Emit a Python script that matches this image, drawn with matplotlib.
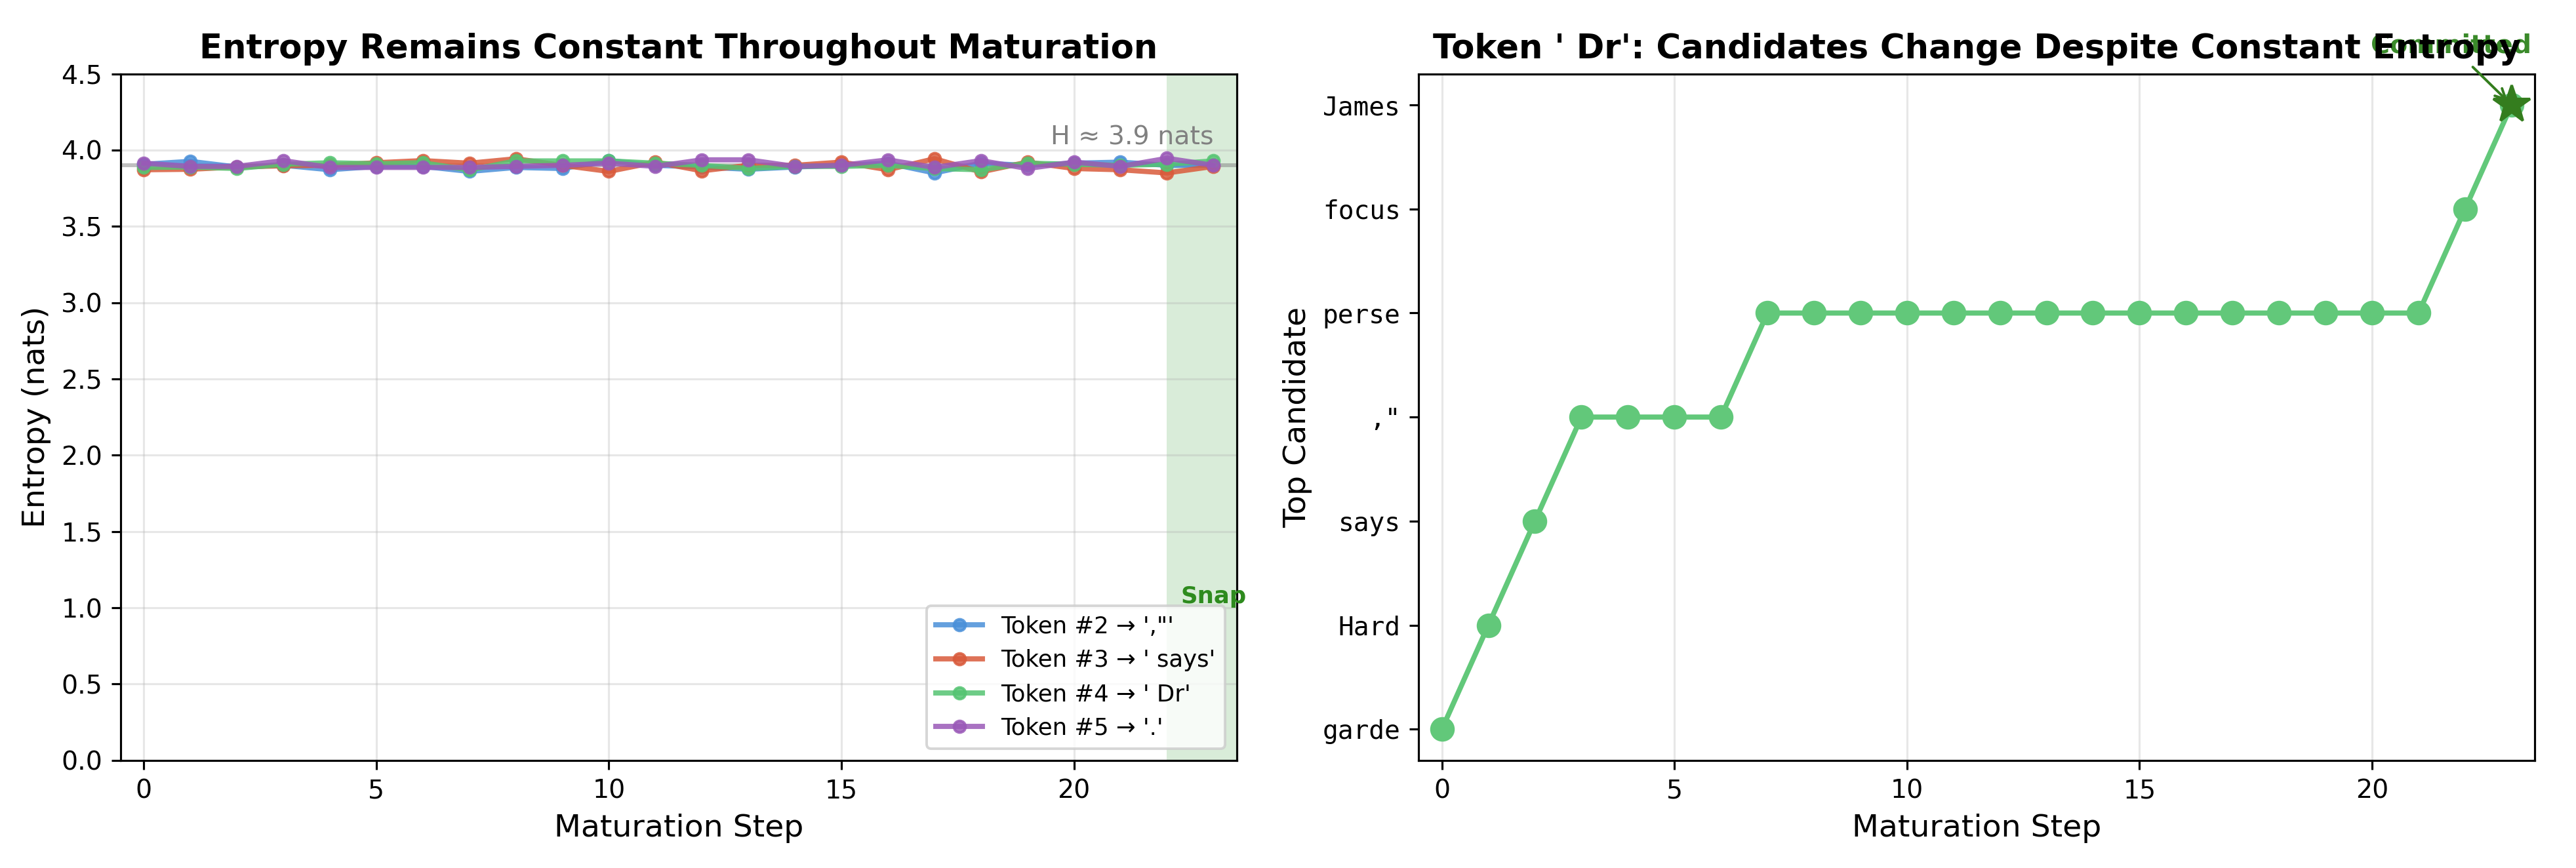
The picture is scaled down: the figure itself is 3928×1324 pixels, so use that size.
import matplotlib
matplotlib.use('Agg')
import matplotlib.pyplot as plt

# entropy per maturation step, one list per token
steps = list(range(24))
ent_tok2 = [3.907, 3.926, 3.889, 3.900, 3.871, 3.893, 3.893, 3.860, 3.886, 3.879,
            3.931, 3.900, 3.889, 3.874, 3.889, 3.900, 3.914, 3.850, 3.914, 3.900,
            3.914, 3.921, 3.900, 3.900]
ent_tok3 = [3.871, 3.874, 3.889, 3.897, 3.900, 3.917, 3.931, 3.914, 3.943, 3.900,
            3.860, 3.921, 3.864, 3.900, 3.900, 3.921, 3.871, 3.943, 3.857, 3.921,
            3.879, 3.871, 3.850, 3.893]
ent_tok4 = [3.886, 3.889, 3.879, 3.907, 3.917, 3.910, 3.917, 3.869, 3.929, 3.929,
            3.929, 3.914, 3.900, 3.879, 3.893, 3.893, 3.900, 3.879, 3.871, 3.914,
            3.907, 3.900, 3.907, 3.929]
ent_tok5 = [3.914, 3.893, 3.893, 3.931, 3.886, 3.886, 3.886, 3.886, 3.893, 3.900,
            3.914, 3.893, 3.936, 3.936, 3.893, 3.900, 3.936, 3.886, 3.931, 3.879,
            3.921, 3.893, 3.946, 3.900]
token_labels = ["Token #2 \u2192 ',\"'", "Token #3 \u2192 ' says'",
                "Token #4 \u2192 ' Dr'", "Token #5 \u2192 '.'"]
token_colors = ['#4a90d9', '#d95a3b', '#55c472', '#9a59b8']

# top candidate of token ' Dr' per step
candidates = ['garde', 'Hard', 'says', ',"', 'perse', 'focus', 'James']
top_idx = [0, 1, 2, 3, 3, 3, 3, 4, 4, 4, 4, 4, 4, 4, 4, 4, 4, 4, 4, 4, 4, 4, 5, 6]

snap_step = 22
mean_h = 3.9

fig, (ax1, ax2) = plt.subplots(1, 2, figsize=(13.831, 4.662), dpi=284)
fig.subplots_adjust(left=0.0468, right=0.984, bottom=0.124, top=0.915, wspace=0.163)

# --- left: entropy
ax1.axvspan(snap_step, 23.5, color='#2e9b2e', alpha=0.18, lw=0)
ax1.axhline(mean_h, color='gray', lw=1.5, alpha=0.5)
for vals, lab, col in zip([ent_tok2, ent_tok3, ent_tok4, ent_tok5], token_labels, token_colors):
    ax1.plot(steps, vals, '-o', color=col, label=lab, lw=2, markersize=4.5, alpha=0.85)
ax1.text(23, 4.0, 'H \u2248 3.9 nats', ha='right', va='bottom', fontsize=10, color='gray')
ax1.text(23, 1.0, 'Snap', ha='center', va='bottom', fontsize=9,
         fontweight='bold', color='#2e8b1e')
ax1.set_xlim(-0.5, 23.5)
ax1.set_ylim(0, 4.5)
ax1.set_xlabel('Maturation Step', fontsize=12)
ax1.set_ylabel('Entropy (nats)', fontsize=12)
ax1.set_title('Entropy Remains Constant Throughout Maturation', fontsize=13, fontweight='bold')
ax1.grid(True, alpha=0.3)
ax1.legend(loc='lower right', fontsize=9)

# --- right: top candidate
ax2.plot(steps, top_idx, '-o', color='#62c87a', lw=2, markersize=8.5)
ax2.plot(steps[-1], top_idx[-1], '*', color='#347d1e', markersize=15, zorder=5)
ax2.annotate('Committed', xy=(steps[-1], top_idx[-1]), xytext=(21.7, 6.5),
             ha='center', fontsize=10, fontweight='bold', color='#3a8a2a',
             arrowprops=dict(arrowstyle='->', color='#347d1e', lw=1))
ax2.set_yticks(range(len(candidates)))
ax2.set_yticklabels(candidates, fontfamily='DejaVu Sans Mono')
ax2.set_xlim(-0.5, 23.5)
ax2.set_xlabel('Maturation Step', fontsize=12)
ax2.set_ylabel('Top Candidate', fontsize=12)
ax2.set_title("Token ' Dr': Candidates Change Despite Constant Entropy",
              fontsize=13, fontweight='bold')
ax2.grid(True, axis='x', alpha=0.3)

fig.savefig('out.png', dpi=284)
plt.close(fig)
